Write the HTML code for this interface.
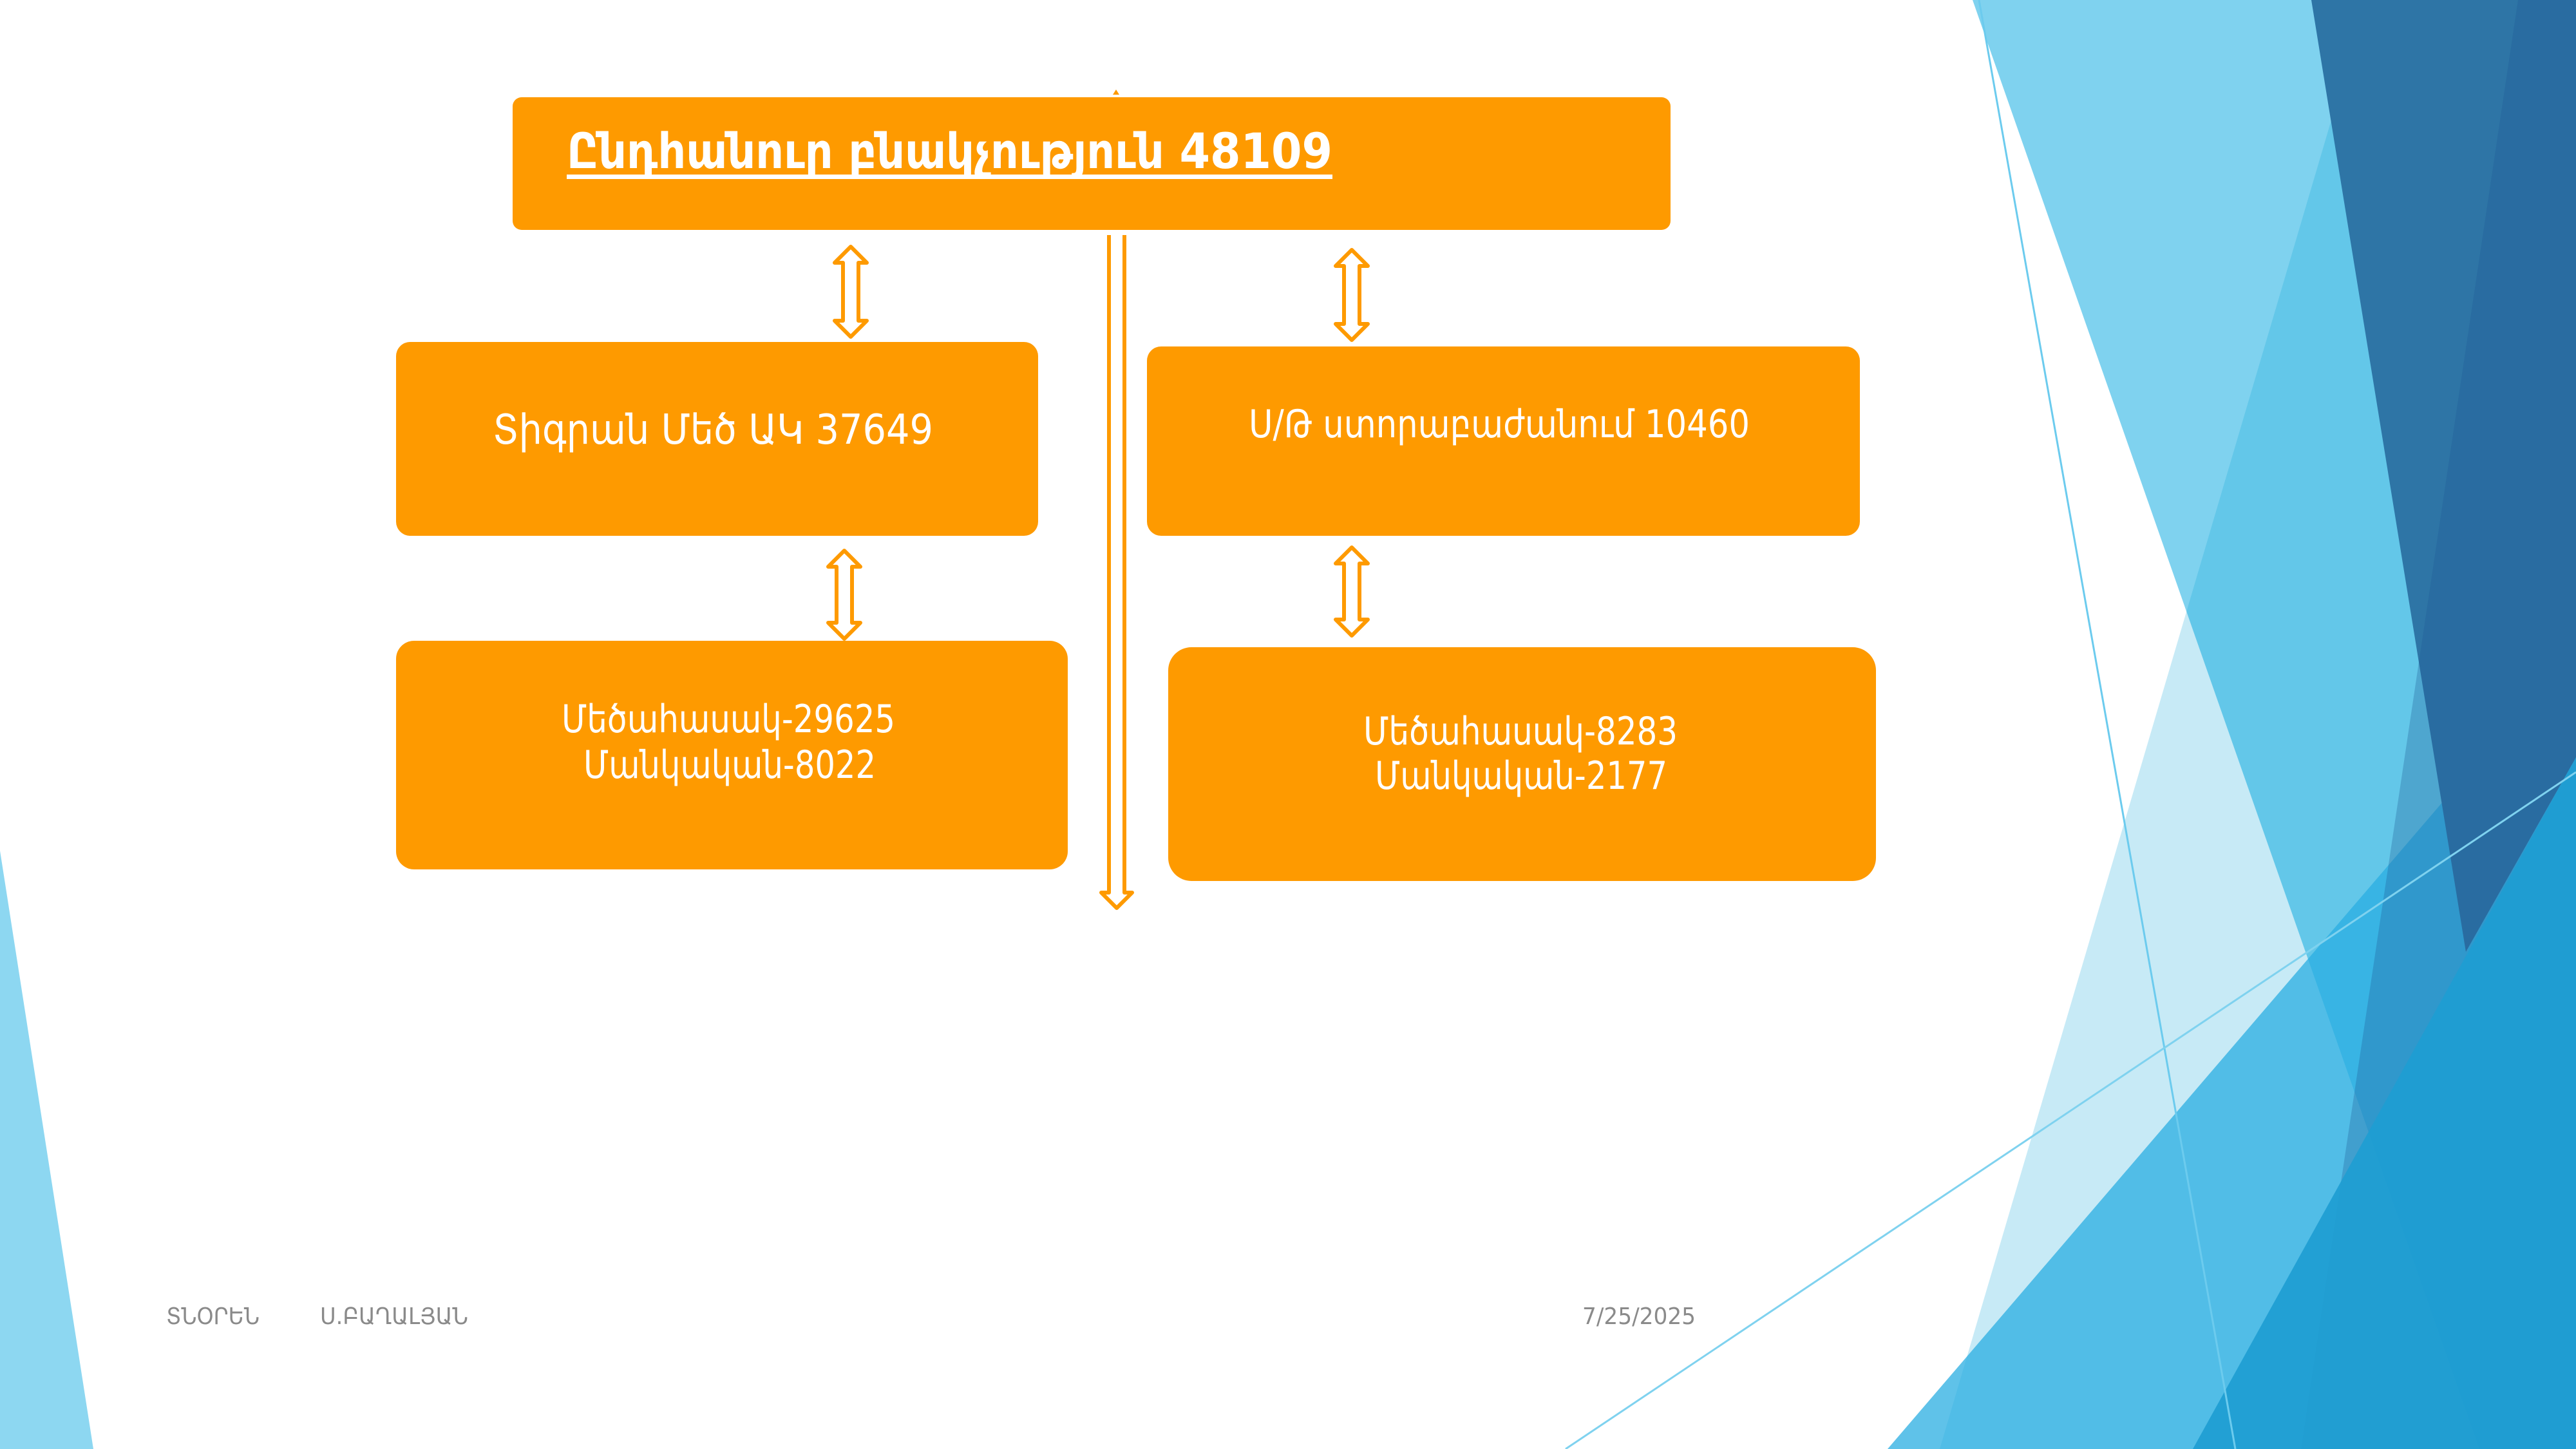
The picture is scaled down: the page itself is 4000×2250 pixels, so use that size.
<!DOCTYPE html>
<html><head><meta charset="utf-8"><style>
html,body{margin:0;padding:0;background:#fff;}
svg{display:block;}
text{font-family:"DejaVu Sans Condensed","DejaVu Sans",sans-serif;fill:#fff;}
</style></head><body>
<svg width="4000" height="2250" viewBox="0 0 4000 2250" xmlns="http://www.w3.org/2000/svg">
<rect width="4000" height="2250" fill="#fff"/>
<!-- right decoration -->
<polygon points="3063,0 4000,0 4000,2250 3850,2250" fill="#7fd2ef"/>
<polygon points="3675,0 4000,0 4000,2250 3012,2250" fill="rgb(0,160,214)" opacity="0.22"/>
<polygon points="2931,2250 4000,1004 4000,2250" fill="#29ade2" opacity="0.75"/>
<polygon points="3589,0 4000,0 4000,1176 3829,1478" fill="#2e75a6"/>
<polygon points="3910,0 4000,0 4000,2250 3573,2250" fill="#1d5a96" opacity="0.3"/>
<polygon points="3405,2250 4000,1176 4000,2250" fill="#1e9dd3" opacity="0.92"/>
<line x1="3073" y1="0" x2="3471" y2="2250" stroke="#6ccbee" stroke-width="3"/>
<line x1="2431" y1="2250" x2="4000" y2="1199" stroke="#7fd2ef" stroke-width="3"/>
<polygon points="0,1321 145,2250 0,2250" fill="#8dd7f1"/>
<!-- boxes -->
<rect x="796" y="151" width="1798" height="206" rx="14" fill="#fe9a00"/>
<rect x="615" y="531" width="997" height="301" rx="22" fill="#fe9a00"/>
<rect x="1781" y="538" width="1107" height="294" rx="22" fill="#fe9a00"/>
<rect x="615" y="995" width="1043" height="355" rx="28" fill="#fe9a00"/>
<rect x="1814" y="1005" width="1099" height="363" rx="36" fill="#fe9a00"/>
<!-- arrows -->
<g fill="#fff" stroke="#fe9a00" stroke-width="6" stroke-linejoin="round">
<path d="M1321,383 L1346,408 L1333,408 L1333,498 L1346,498 L1321,523 L1296,498 L1309,498 L1309,408 L1296,408 Z"/>
<path d="M1311,855 L1336,880 L1323,880 L1323,967 L1336,967 L1311,992 L1286,967 L1299,967 L1299,880 L1286,880 Z"/>
<path d="M2099,388 L2124,413 L2111,413 L2111,503 L2124,503 L2099,528 L2074,503 L2087,503 L2087,413 L2074,413 Z"/>
<path d="M2099,850 L2124,875 L2111,875 L2111,962 L2124,962 L2099,987 L2074,962 L2087,962 L2087,875 L2074,875 Z"/>
<path d="M1722,365 L1722,1386 L1710,1386 L1734,1410 L1758,1386 L1746,1386 L1746,365"/>
</g>
<polygon points="1733,139 1738,147 1728,147" fill="#fe9a00"/>
<!-- texts -->
<text x="880" y="261" font-size="76" font-weight="bold" textLength="1189" lengthAdjust="spacingAndGlyphs">Ընդհանուր բնակչություն 48109</text>
<rect x="880" y="271" width="1189" height="7" fill="#fff"/>
<text x="765" y="689" font-size="64" textLength="684" lengthAdjust="spacingAndGlyphs">Տիգրան Մեծ ԱԿ 37649</text>
<text x="1939" y="679" font-size="60" textLength="778" lengthAdjust="spacingAndGlyphs">Ս/Թ ստորաբաժանում 10460</text>
<text x="872" y="1137" font-size="60" textLength="518" lengthAdjust="spacingAndGlyphs">Մեծահասակ-29625</text>
<text x="906" y="1208" font-size="60" textLength="454" lengthAdjust="spacingAndGlyphs">Մանկական-8022</text>
<text x="2117" y="1156" font-size="60" textLength="488" lengthAdjust="spacingAndGlyphs">Մեծահասակ-8283</text>
<text x="2135" y="1225" font-size="60" textLength="454" lengthAdjust="spacingAndGlyphs">Մանկական-2177</text>
<text x="258" y="2056" font-size="36" textLength="145" lengthAdjust="spacingAndGlyphs" style="fill:#8a8a8a">ՏՆՕՐԵՆ</text>
<text x="497" y="2056" font-size="36" textLength="230" lengthAdjust="spacingAndGlyphs" style="fill:#8a8a8a">Ս.ԲԱՂԱԼՅԱՆ</text>
<text x="2457" y="2056" font-size="36" textLength="176" lengthAdjust="spacingAndGlyphs" style="fill:#8a8a8a">7/25/2025</text>
</svg>
</body></html>
